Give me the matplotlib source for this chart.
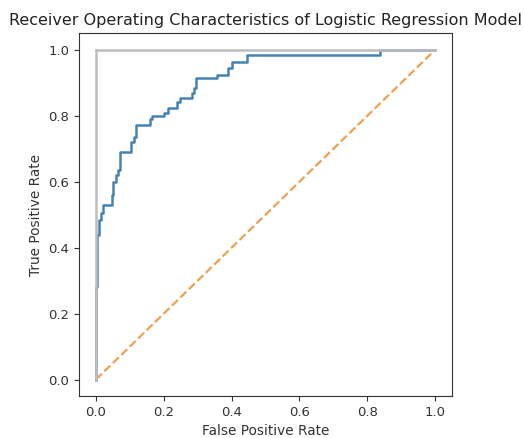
import matplotlib
matplotlib.use("Agg")
import matplotlib.pyplot as plt

# ROC curve vertices
fpr = [0.0, 0.0, 0.004, 0.004, 0.010, 0.010, 0.016, 0.016, 0.022, 0.022,
       0.046, 0.046, 0.050, 0.050, 0.058, 0.058, 0.064, 0.064, 0.070, 0.070,
       0.104, 0.104, 0.111, 0.111, 0.119, 0.119, 0.158, 0.158, 0.165, 0.165,
       0.200, 0.200, 0.213, 0.213, 0.238, 0.238, 0.247, 0.247, 0.282, 0.282,
       0.288, 0.288, 0.295, 0.295, 0.356, 0.356, 0.390, 0.390, 0.400, 0.400,
       0.445, 0.445, 0.838, 0.838, 1.0]
tpr = [0.0, 0.28, 0.28, 0.44, 0.44, 0.485, 0.485, 0.506, 0.506, 0.53,
       0.53, 0.56, 0.56, 0.60, 0.60, 0.62, 0.62, 0.636, 0.636, 0.69,
       0.69, 0.72, 0.72, 0.737, 0.737, 0.773, 0.773, 0.79, 0.79, 0.80,
       0.80, 0.81, 0.81, 0.823, 0.823, 0.843, 0.843, 0.854, 0.854, 0.869,
       0.869, 0.884, 0.884, 0.914, 0.914, 0.924, 0.924, 0.944, 0.944, 0.964,
       0.964, 0.985, 0.985, 1.0, 1.0]

chance_x = [0, 1]
chance_y = [0, 1]
perfect_x1 = [0, 0]
perfect_y1 = [0, 1]
perfect_x2 = [0, 1]
perfect_y2 = [1, 1]

fig = plt.figure(figsize=(5.24, 4.38), dpi=100)
ax = fig.add_axes([79/524, 1-396/438, 373/524, 362.5/438])

ax.plot(fpr, tpr, color='#4682b4', lw=1.8)
ax.plot(chance_x, chance_y, ls='--', color='#f0a050', lw=1.6)
ax.plot(perfect_x1, perfect_y1, color='#bdbdbd', lw=1.8)
ax.plot(perfect_x2, perfect_y2, color='#bdbdbd', lw=1.8)

ax.set_xlim(-0.05, 1.05)
ax.set_ylim(-0.05, 1.05)
ax.set_xticks([0, 0.2, 0.4, 0.6, 0.8, 1.0])
ax.set_yticks([0, 0.2, 0.4, 0.6, 0.8, 1.0])
ax.tick_params(labelsize=9.5, length=3.5, colors='#333333')
for s in ax.spines.values():
    s.set_color('#333333')
ax.set_xlabel('False Positive Rate', fontsize=9.8, color='#333333')
ax.set_ylabel('True Positive Rate', fontsize=9.8, color='#333333')
ax.set_title('Receiver Operating Characteristics of Logistic Regression Model',
             fontsize=11.5, color='#222222', pad=6)

fig.savefig('out.png', dpi=100)
